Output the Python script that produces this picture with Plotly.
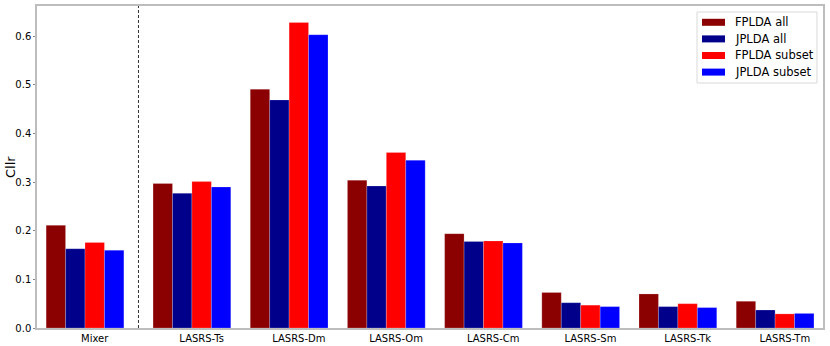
import plotly.graph_objects as go

categories = ["Mixer", "LASRS-Ts", "LASRS-Dm", "LASRS-Om", "LASRS-Cm", "LASRS-Sm", "LASRS-Tk", "LASRS-Tm"]
fplda_all = [0.211, 0.297, 0.491, 0.304, 0.194, 0.073, 0.070, 0.055]
jplda_all = [0.163, 0.277, 0.469, 0.292, 0.178, 0.052, 0.044, 0.037]
fplda_subset = [0.176, 0.301, 0.628, 0.361, 0.179, 0.047, 0.050, 0.029]
jplda_subset = [0.160, 0.290, 0.603, 0.345, 0.175, 0.044, 0.042, 0.030]

series_names = ["FPLDA all", "JPLDA all", "FPLDA subset", "JPLDA subset"]
series_values = [fplda_all, jplda_all, fplda_subset, jplda_subset]
colors = ["#8b0000", "#00008b", "#ff0000", "#0000ff"]

W, H = 830, 346
ML, MR, MT, MB = 37, 7, 6, 18
PW, PH = W - ML - MR, H - MT - MB


def px(xp):
    return (xp - ML) / PW


def py(yp):
    return (H - MB - yp) / PH


# group centres: extra gap after the first group (separator)
pos = [i + (0.1 if i > 0 else 0.0) for i in range(len(categories))]
bw = 0.2

fig = go.Figure()
for k, (name, vals, col) in enumerate(zip(series_names, series_values, colors)):
    fig.add_trace(go.Bar(
        x=pos, y=vals, name=name, width=bw, offset=-0.4 + k * bw,
        marker=dict(color=col, line=dict(width=0.6, color="rgba(255,255,255,0.35)")),
        showlegend=False,
    ))

fig.add_shape(type="line", xref="x", yref="paper", x0=0.55, x1=0.55, y0=0, y1=1,
              line=dict(color="#333333", width=1, dash="3px,2px"))

fig.add_annotation(text="Cllr", xref="paper", yref="paper", x=px(10), y=0.5,
                   xanchor="center", yanchor="middle", textangle=-90, showarrow=False,
                   font=dict(size=13, family="DejaVu Sans", color="black"))

# legend drawn by hand (matplotlib-like spacing)
fig.add_shape(type="rect", xref="paper", yref="paper", x0=px(697), x1=px(817), y0=py(83), y1=py(12),
              line=dict(color="#d9d9d9", width=1), fillcolor="rgba(255,255,255,0.8)", layer="above")
for k, (name, col) in enumerate(zip(series_names, colors)):
    yc = 22.3 + 16.6 * k
    fig.add_shape(type="rect", xref="paper", yref="paper", x0=px(702), x1=px(725),
                  y0=py(yc + 3.5), y1=py(yc - 3.5), line=dict(width=0), fillcolor=col, layer="above")
    fig.add_annotation(text=name, xref="paper", yref="paper", x=px(733), y=py(yc),
                       xanchor="left", yanchor="middle", showarrow=False,
                       font=dict(size=11.5, family="DejaVu Sans", color="black"))

fig.update_layout(
    width=W, height=H,
    margin=dict(l=ML, r=MR, t=MT, b=MB),
    plot_bgcolor="white", paper_bgcolor="white",
    barmode="overlay",
    font=dict(family="DejaVu Sans", size=10, color="black"),
    showlegend=False,
    xaxis=dict(range=[-0.494, 7.593], tickvals=[p + 0.1 for p in pos], ticktext=categories,
               showgrid=False, zeroline=False, showline=True, mirror=True, automargin=False,
               linecolor="#bdbdbd", linewidth=1.5, ticks="", ticklen=0,
               tickfont=dict(size=10)),
    yaxis=dict(range=[0, 0.662], tickvals=[0, 0.1, 0.2, 0.3, 0.4, 0.5, 0.6], tickformat=".1f",
               showgrid=False, zeroline=False, showline=True, mirror=True, automargin=False,
               linecolor="#bdbdbd", linewidth=1.5, ticks="outside", ticklen=2, tickcolor="#888",
               tickfont=dict(size=10)),
)

fig.write_html("out.html", config={"displayModeBar": False},
               post_script="document.body.style.margin='0';")
